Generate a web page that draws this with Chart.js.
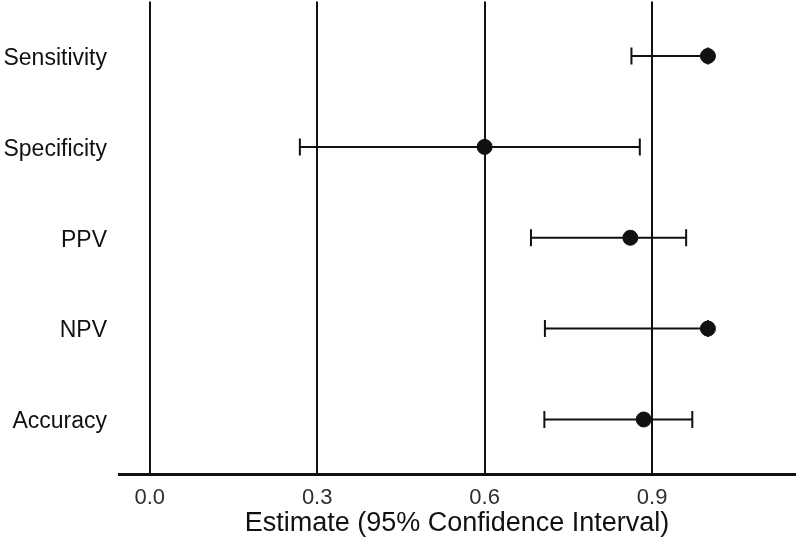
<!DOCTYPE html>
<html>
<head>
<meta charset="utf-8">
<script src="https://cdn.jsdelivr.net/npm/chart.js@4.4.1/dist/chart.umd.min.js"></script>
<style>
  html, body { margin: 0; padding: 0; background: #fff; }
  #wrap { width: 797px; height: 541px; }
</style>
</head>
<body>
<div id="wrap"><canvas id="forest" width="797" height="541"></canvas></div>
<script>
/* forest plot: estimate with 95% CI per measure */

const MEASURES = ["Sensitivity", "Specificity", "PPV", "NPV", "Accuracy"];
const ESTIMATE = [1.0, 0.6, 0.861, 1.0, 0.885];
const CI_LOW = [0.863, 0.269, 0.683, 0.708, 0.707];
const CI_HIGH = [1.0, 0.878, 0.961, 1.0, 0.972];
const X_TICKS = [0.0, 0.3, 0.6, 0.9];

const ink = "#111111";
const font = "'Liberation Sans', Arial, Helvetica, sans-serif";

// row i sits at y = i + 1 (reversed axis, Sensitivity on top)
const estPts = ESTIMATE.map((v, i) => ({ x: v, y: i + 1 }));
const ciSets = MEASURES.map((name, i) => ({
  type: "line",
  label: name,
  data: [
    { x: CI_LOW[i], y: i + 1 },
    { x: CI_HIGH[i], y: i + 1 },
  ],
  borderColor: ink,
  borderWidth: 2,
  pointStyle: "line",
  pointRotation: 90,
  pointRadius: 8.5,
  pointBorderWidth: 2,
  pointBorderColor: ink,
  pointHoverRadius: 8.5,
}));

new Chart(document.getElementById("forest"), {
  type: "scatter",
  data: {
    datasets: [
      { label: "Estimate", data: estPts, backgroundColor: ink, borderColor: ink, pointRadius: 7.5, pointHoverRadius: 7.5 },
      ...ciSets,
    ],
  },
  options: {
    responsive: false,
    animation: false,
    devicePixelRatio: 1,
    layout: { autoPadding: false, padding: { top: 1.5, right: 2, left: 0, bottom: 0 } },
    plugins: { legend: { display: false }, tooltip: { enabled: false } },
    scales: {
      x: {
        type: "linear",
        min: -0.055,
        max: 1.156,
        afterBuildTicks: (s) => { s.ticks = X_TICKS.map((v) => ({ value: v })); },
        afterFit: (s) => {
          s.height = 67;
          s.paddingLeft = 0;
          s.paddingRight = 0;
        },
        ticks: { color: "#2e2e2e", font: { family: font, size: 22 }, padding: 11, callback: (v) => v.toFixed(1) },
        grid: { color: ink, lineWidth: 2, drawTicks: false },
        border: { display: true, color: ink, width: 3 },
        title: { display: true, text: "Estimate (95% Confidence Interval)", color: ink, font: { family: font, size: 27 }, padding: { top: 0, bottom: 1 } },
      },
      y: {
        type: "linear",
        reverse: true,
        min: 0.4,
        max: 5.6,
        afterBuildTicks: (s) => { s.ticks = MEASURES.map((_, i) => ({ value: i + 1 })); },
        afterFit: (s) => {
          s.width = 119;
          s.paddingTop = 0;
          s.paddingBottom = 0;
        },
        ticks: { color: ink, font: { family: font, size: 23 }, padding: 12, labelOffset: 2.5, callback: (v) => MEASURES[v - 1] },
        grid: { display: false, drawTicks: false },
        border: { display: false },
      },
    },
  },
});
</script>
</body>
</html>
